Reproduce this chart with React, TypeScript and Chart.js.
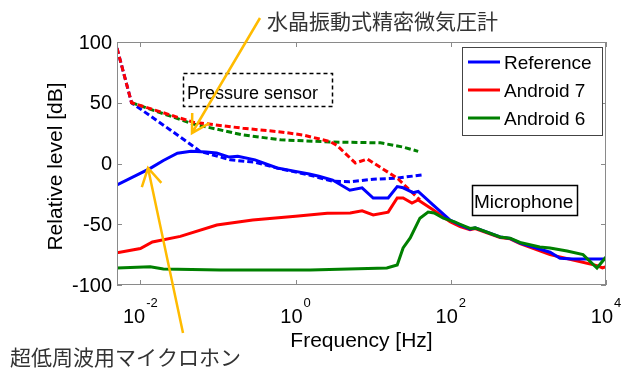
import React, { useEffect, useRef } from "react";
import { Chart, registerables } from "chart.js";

Chart.register(...registerables);

// ---- Data (frequency in Hz, level in dB) ----
const REF_MIC_F = [0.005, 0.0134, 0.0198, 0.03, 0.045, 0.07, 0.096, 0.14, 0.18, 0.3, 0.58, 1.0, 1.5, 2.0, 3.0, 5.0, 7.2, 10, 15.6, 20.4, 24.3, 32.7, 38, 59, 98, 132, 177, 206, 432, 581, 781, 1900, 2560, 3760, 10000];
const REF_MIC_DB = [-17.7, -4, 2.5, 8.5, 10, 9.5, 8.6, 5.3, 6, 3, -3.7, -6.5, -8.6, -10.5, -13.6, -22, -20, -28.4, -28.4, -19, -20, -24, -23, -34, -46.5, -50.6, -54, -53, -60.5, -61.6, -65.6, -73, -78, -78.6, -78.6];

const A7_MIC_F = [0.005, 0.01, 0.0143, 0.0327, 0.0966, 0.28, 1.0, 2.56, 5.06, 7.2, 10, 15.6, 20.4, 24.3, 31.6, 38, 59, 98, 132, 177, 206, 432, 581, 781, 1900, 3760, 7650, 9000, 10000];
const A7_MIC_DB = [-73.5, -70, -64.6, -60, -50.6, -46.5, -43.5, -41, -40.7, -39, -42.4, -40, -28.4, -28.4, -32.5, -30, -38, -48, -52, -54.5, -53.5, -61, -62, -66, -75, -79.4, -84, -86, -85];

const A6_MIC_F = [0.005, 0.0134, 0.0198, 0.107, 1.55, 15, 20.4, 24.3, 30, 40, 51, 61, 80, 112, 132, 177, 206, 432, 581, 781, 1400, 1900, 3150, 5060, 7650, 10000];
const A6_MIC_DB = [-86, -85, -86.8, -87.6, -87.6, -86, -83.5, -69.5, -61.3, -45, -40, -40.7, -45, -48, -50, -53.5, -53, -60.5, -61.5, -65, -68.7, -69.5, -72, -75, -86, -77];

const REF_PS_F = [0.005, 0.0077, 0.0243, 0.059, 0.144, 0.3, 0.6, 1.5, 3, 5, 10, 20, 42];
const REF_PS_DB = [95, 50, 27.6, 10, 3, 1, -4, -9.5, -14.5, -15, -13, -12, -9.5];

const A7_PS_F = [0.005, 0.0077, 0.048, 0.21, 0.64, 1.26, 2.8, 3.4, 5.9, 8.4, 20.4, 40];
const A7_PS_DB = [95, 50, 34, 29, 26, 23.4, 18, 15, 0.4, 3.7, -12, -30];

const A6_PS_F = [0.0077, 0.048, 0.21, 0.64, 2.8, 12.4, 24, 38];
const A6_PS_DB = [50, 32.5, 23.5, 19.5, 17.7, 17, 13.6, 10];

const SERIES_NAMES = ["Reference", "Android 7", "Android 6"];
const SERIES_COLORS = ["#0000ff", "#ff0000", "#008000"];

const X_TICKS = [0.01, 1, 100, 10000];
const X_TICK_EXP = ["-2", "0", "2", "4"];
const Y_TICKS = [-100, -50, 0, 50, 100];

const X_TITLE = "Frequency [Hz]";
const Y_TITLE = "Relative level [dB]";
const PS_LABEL = "Pressure sensor";
const MIC_LABEL = "Microphone";
const JP_TOP = "水晶振動式精密微気圧計";
const JP_BOTTOM = "超低周波用マイクロホン";

const LATIN = '"Liberation Sans", Arial, Helvetica, sans-serif';
const CJK = '"Noto Sans CJK JP", sans-serif';
const ORANGE = "#ffbb00";

function pts(f: number[], v: number[]) {
  return f.map((x, i) => ({ x, y: v[i] }));
}

function arrow(ctx: CanvasRenderingContext2D, x0: number, y0: number, x1: number, y1: number) {
  ctx.beginPath();
  ctx.moveTo(x0, y0);
  ctx.lineTo(x1, y1);
  const ang = Math.atan2(y0 - y1, x0 - x1);
  const len = 20;
  const spread = Math.PI / 6;
  ctx.moveTo(x1 + len * Math.cos(ang - spread), y1 + len * Math.sin(ang - spread));
  ctx.lineTo(x1, y1);
  ctx.lineTo(x1 + len * Math.cos(ang + spread), y1 + len * Math.sin(ang + spread));
  ctx.stroke();
}

const decor = {
  id: "decor",
  afterDraw(chart: any) {
    const { ctx, chartArea: a, scales } = chart;
    const xs = scales.x;
    const ys = scales.y;
    ctx.save();
    // axes box
    ctx.strokeStyle = "#8a8a8a";
    ctx.lineWidth = 1;
    ctx.setLineDash([]);
    ctx.strokeRect(a.left + 0.5, a.top + 0.5, a.right - a.left - 1, a.bottom - a.top - 1);
    // tick marks
    ctx.beginPath();
    X_TICKS.forEach((v) => {
      const px = Math.round(xs.getPixelForValue(v)) + 0.5;
      ctx.moveTo(px, a.bottom);
      ctx.lineTo(px, a.bottom - 5);
      ctx.moveTo(px, a.top);
      ctx.lineTo(px, a.top + 5);
    });
    Y_TICKS.forEach((v) => {
      const py = Math.round(ys.getPixelForValue(v)) + 0.5;
      ctx.moveTo(a.left, py);
      ctx.lineTo(a.left + 5, py);
      ctx.moveTo(a.right, py);
      ctx.lineTo(a.right - 5, py);
    });
    ctx.stroke();

    // y tick labels
    ctx.fillStyle = "#000";
    ctx.font = `20px ${LATIN}`;
    ctx.textAlign = "right";
    ctx.textBaseline = "middle";
    Y_TICKS.forEach((v) => {
      const py = ys.getPixelForValue(v);
      ctx.fillText(String(v), a.left - 5, py + 1);
    });
    // x tick labels with exponents
    ctx.textAlign = "left";
    ctx.textBaseline = "alphabetic";
    X_TICKS.forEach((v, i) => {
      const px = xs.getPixelForValue(v);
      ctx.font = `20px ${LATIN}`;
      const w1 = ctx.measureText("10").width;
      ctx.font = `13px ${LATIN}`;
      const w2 = ctx.measureText(X_TICK_EXP[i]).width;
      const start = px - (w1 + 1 + w2) / 2;
      ctx.font = `20px ${LATIN}`;
      ctx.fillText("10", start, a.bottom + 38);
      ctx.font = `13px ${LATIN}`;
      ctx.fillText(X_TICK_EXP[i], start + w1 + 1, a.bottom + 22);
    });

    // axis titles
    ctx.font = `21px ${LATIN}`;
    ctx.textAlign = "center";
    ctx.fillText(X_TITLE, (a.left + a.right) / 2, a.bottom + 62);
    ctx.save();
    ctx.translate(62, (a.top + a.bottom) / 2 + 3);
    ctx.rotate(-Math.PI / 2);
    ctx.fillText(Y_TITLE, 0, 0);
    ctx.restore();

    // legend
    ctx.fillStyle = "#fff";
    ctx.fillRect(462, 47, 140, 88);
    ctx.strokeStyle = "#444";
    ctx.lineWidth = 1;
    ctx.strokeRect(462.5, 47.5, 140, 88);
    ctx.font = `19px ${LATIN}`;
    ctx.textAlign = "left";
    ctx.textBaseline = "middle";
    SERIES_NAMES.forEach((name, i) => {
      const y = 62 + i * 28;
      ctx.strokeStyle = SERIES_COLORS[i];
      ctx.lineWidth = 3;
      ctx.beginPath();
      ctx.moveTo(468, y);
      ctx.lineTo(500, y);
      ctx.stroke();
      ctx.fillStyle = "#000";
      ctx.fillText(name, 504, y + 2);
    });

    // Pressure sensor box (dashed)
    ctx.strokeStyle = "#000";
    ctx.lineWidth = 1.5;
    ctx.setLineDash([4, 3]);
    ctx.strokeRect(183.5, 73.5, 149, 33);
    ctx.setLineDash([]);
    ctx.font = `18px ${LATIN}`;
    ctx.textBaseline = "alphabetic";
    ctx.fillStyle = "#000";
    ctx.fillText(PS_LABEL, 187, 99);

    // Microphone box
    ctx.fillStyle = "#fff";
    ctx.fillRect(472, 185, 105, 30);
    ctx.strokeStyle = "#000";
    ctx.lineWidth = 1.5;
    ctx.strokeRect(472.5, 185.5, 105, 30);
    ctx.fillStyle = "#000";
    ctx.font = `19px ${LATIN}`;
    ctx.fillText(MIC_LABEL, 474, 208);

    // arrows
    ctx.strokeStyle = ORANGE;
    ctx.lineWidth = 2.5;
    ctx.lineCap = "butt";
    arrow(ctx, 260, 18, 192, 133);
    arrow(ctx, 183, 333, 148, 168);

    // Japanese labels
    ctx.fillStyle = "#333";
    ctx.font = `21px ${CJK}`;
    ctx.textBaseline = "middle";
    ctx.textAlign = "left";
    ctx.fillText(JP_TOP, 267, 21);
    ctx.fillText(JP_BOTTOM, 10, 357);

    ctx.restore();
  },
};

export default function App() {
  const canvasRef = useRef<HTMLCanvasElement | null>(null);

  useEffect(() => {
    const canvas = canvasRef.current;
    if (!canvas) return;
    const solid = (label: string, f: number[], v: number[], color: string, order: number) => ({
      label,
      data: pts(f, v),
      borderColor: color,
      backgroundColor: color,
      borderWidth: 3,
      pointRadius: 0,
      tension: 0,
      fill: false,
      order,
    });
    const dashed = (label: string, f: number[], v: number[], color: string, order: number) => ({
      ...solid(label, f, v, color, order),
      borderDash: [6, 3],
    });
    const chart = new Chart(canvas, {
      type: "line",
      data: {
        datasets: [
          solid("Android 6 mic", A6_MIC_F, A6_MIC_DB, SERIES_COLORS[2], 0),
          solid("Reference mic", REF_MIC_F, REF_MIC_DB, SERIES_COLORS[0], 1),
          solid("Android 7 mic", A7_MIC_F, A7_MIC_DB, SERIES_COLORS[1], 2),
          dashed("Android 7 pressure", A7_PS_F, A7_PS_DB, SERIES_COLORS[1], 3),
          dashed("Android 6 pressure", A6_PS_F, A6_PS_DB, SERIES_COLORS[2], 4),
          dashed("Reference pressure", REF_PS_F, REF_PS_DB, SERIES_COLORS[0], 5),
        ] as any,
      },
      options: {
        animation: false,
        responsive: false,
        devicePixelRatio: 1,
        parsing: true as any,
        layout: { padding: { left: 117, right: 15, top: 42, bottom: 84 } },
        plugins: { legend: { display: false }, tooltip: { enabled: false } },
        scales: {
          x: { type: "logarithmic", min: 0.005, max: 10000, display: false },
          y: { type: "linear", min: -100, max: 100, display: false },
        },
      },
      plugins: [decor],
    });
    return () => chart.destroy();
  }, []);

  return (
    <div style={{ position: "absolute", left: 0, top: 0, width: 621, height: 369, background: "#fff" }}>
      <canvas ref={canvasRef} width={621} height={369} style={{ display: "block" }} />
    </div>
  );
}
